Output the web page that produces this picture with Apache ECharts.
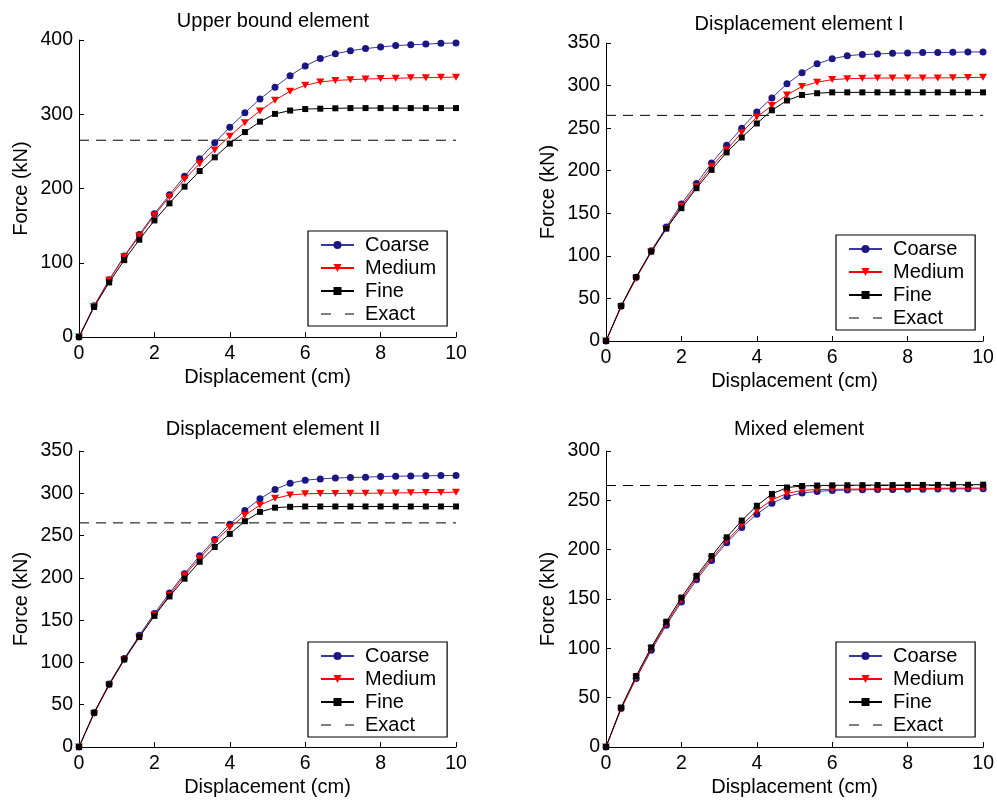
<!DOCTYPE html>
<html>
<head>
<meta charset="utf-8">
<script src="https://cdn.jsdelivr.net/npm/echarts@6/dist/echarts.min.js"></script>
<style>
html,body{margin:0;padding:0;background:#fff;}
#main{width:997px;height:802px;}
</style>
</head>
<body>
<div id="main"></div>
<script>
// Displacement values (cm)
var displacement = [0,0.4,0.8,1.2,1.6,2.0,2.4,2.8,3.2,3.6,4.0,4.4,4.8,5.2,5.6,6.0,6.4,6.8,7.2,7.6,8.0,8.4,8.8,9.2,9.6,10];

var titles = ["Upper bound element", "Displacement element I", "Displacement element II", "Mixed element"];
var exactForce = 265;

// Upper bound element
var upperCoarse = [0,42,77,109,138,166,191.5,216.5,240,261.5,282.5,302,320.5,336.5,352,365,375,381.5,385.5,388.5,390.5,392.5,393.5,394.5,395.5,396];
var upperMedium = [0,41,76.5,108,136,164,189,212.5,233.5,252,270.5,288.5,304.5,319,331,339,343.5,345.5,346.5,347.5,348,348.5,349,349.3,349.7,350];
var upperFine   = [0,40.5,73.5,103.5,131,157,180,202.5,223.5,242,260.5,276,290,300.5,305,307,307.5,308,308.3,308.3,308.3,308.3,308.3,308.3,308.3,308.3];

// Displacement element I
var disp1Coarse = [0,41,75,106,134,161,185,209,230,250,269,285.5,302,315,325.5,331.5,335,336.5,337,338,338.3,338.7,338.8,339,339.5,339.5];
var disp1Medium = [0,40,73.5,104.5,132,158.5,181.5,205,224.5,245,263,276.5,289,299,304,307,308,308.5,308.8,308.9,308.9,309,309,309.2,309.4,309.7];
var disp1Fine   = [0,41,75,105,132,156,179.5,201,221.5,239,255.5,271,282.5,289,291,292,292,292,292,292,292,292,292,292,292,292];

// Displacement element II
var disp2Coarse = [0,40.5,74.5,104.5,132,158,182,205,226,245.5,263.5,279.5,293.5,304.5,312,315.5,317,318,318.7,319,319.8,320.2,320.4,320.6,321,321];
var disp2Medium = [0,39.5,73,103,130,156,179.5,203,223,243,259.5,274,286,294,298,299.4,299.8,299.8,300,300,300.2,300.4,300.6,300.8,301,301.3];
var disp2Fine   = [0,40.5,74,103.5,130,155,178,199,219,236.5,252,267,278,283,284,284.4,284.4,284.4,284.4,284.4,284.4,284.4,284.4,284.4,284.4,284.4];

// Mixed element
var mixedCoarse = [0,39,69.5,98,123.5,147,169.5,189,207,222.5,236,247,254,257.5,259,260,260.5,260.7,260.9,261,261.2,261.3,261.5,261.6,261.7,261.8];
var mixedMedium = [0,38.5,70,99.5,125,149,171.5,191,209,225,239.5,250.5,257,260,261,261.1,261.3,261.5,261.6,261.8,262,262.1,262.2,262.3,262.4,262.5];
var mixedFine   = [0,40,72,101,127,151.5,173.5,193.5,212.5,229.5,244.5,256.5,263,264.5,265,265.2,265.3,265.4,265.5,265.5,265.6,265.6,265.7,265.8,265.8,265.9];

var yMax = [400, 350, 350, 300];
var yInterval = [100, 50, 50, 50];
var seriesSets = [
  [upperCoarse, upperMedium, upperFine],
  [disp1Coarse, disp1Medium, disp1Fine],
  [disp2Coarse, disp2Medium, disp2Fine],
  [mixedCoarse, mixedMedium, mixedFine]
];
var seriesNames = ["Coarse", "Medium", "Fine", "Exact"];

var FONT = "Liberation Sans, Arial, sans-serif";
var FS = 19.5;
var grids = [
  {left: 79, top: 40, width: 377, height: 297},
  {left: 606, top: 43, width: 377, height: 298},
  {left: 79, top: 451, width: 377, height: 296},
  {left: 606, top: 451, width: 378, height: 296}
];
var titlePos = [[268, 6], [794, 9], [268, 414], [794, 414]];
var legendPos = [[308, 231], [836, 235], [308, 642], [836, 642]];

function pairs(xs, ys){ return xs.map(function(x, i){ return [x, ys[i]]; }); }

var option = {
  backgroundColor: '#fff',
  animation: false,
  title: [], grid: [], xAxis: [], yAxis: [], legend: [], series: []
};

for (var g = 0; g < 4; g++) {
  option.title.push({
    text: titles[g], left: titlePos[g][0], top: titlePos[g][1], textAlign: 'center',
    textStyle: {fontFamily: FONT, fontSize: 20, fontWeight: 'normal', color: '#000'}
  });
  option.grid.push(grids[g]);
  option.xAxis.push({
    type: 'value', gridIndex: g, min: 0, max: 10, interval: 2,
    name: 'Displacement (cm)', nameLocation: 'middle', nameGap: 30,
    nameTextStyle: {fontFamily: FONT, fontSize: 20, color: '#000'},
    axisLine: {show: true, onZero: false, lineStyle: {color: '#000', width: 1}},
    axisTick: {show: true, inside: true, length: 5, lineStyle: {color: '#000'}},
    axisLabel: {fontFamily: FONT, fontSize: FS, color: '#000', margin: 7},
    splitLine: {show: false}
  });
  option.yAxis.push({
    type: 'value', gridIndex: g, min: 0, max: yMax[g], interval: yInterval[g],
    name: 'Force (kN)', nameLocation: 'middle', nameGap: 48,
    nameTextStyle: {fontFamily: FONT, fontSize: 20, color: '#000'},
    axisLine: {show: true, onZero: false, lineStyle: {color: '#000', width: 1}},
    axisTick: {show: true, inside: true, length: 5, lineStyle: {color: '#000'}},
    axisLabel: {fontFamily: FONT, fontSize: FS, color: '#000', margin: 6},
    splitLine: {show: false}
  });
  option.legend.push({
    left: legendPos[g][0], top: legendPos[g][1], orient: 'vertical',
    data: [
      {name: 'Coarse'},
      {name: 'Medium'},
      {name: 'Fine'},
      {name: 'Exact', itemStyle: {opacity: 0, color: 'rgba(0,0,0,0)', borderWidth: 0}, lineStyle: {type: [10, 14], width: 1}}
    ],
    itemWidth: 33, itemHeight: 10, itemGap: 3,
    padding: [4, 11, 2, 12],
    borderColor: '#000', borderWidth: 1.2, borderRadius: 0,
    backgroundColor: '#fff',
    selectedMode: false,
    textStyle: {fontFamily: FONT, fontSize: 20, lineHeight: 19, color: '#000', padding: [0, 0, 0, 6]}
  });
  var set = seriesSets[g];
  option.series.push({
    name: 'Coarse', type: 'line', xAxisIndex: g, yAxisIndex: g,
    data: pairs(displacement, set[0]),
    symbol: 'circle', symbolSize: 7,
    lineStyle: {color: '#3a36a6', width: 1},
    itemStyle: {color: '#1c1683', borderWidth: 0},
    z: 2
  });
  option.series.push({
    name: 'Medium', type: 'line', xAxisIndex: g, yAxisIndex: g,
    data: pairs(displacement, set[1]),
    symbol: 'triangle', symbolSize: [8, 7], symbolRotate: 180,
    lineStyle: {color: '#ff0000', width: 1},
    itemStyle: {color: '#ff0000', borderWidth: 0},
    z: 3
  });
  option.series.push({
    name: 'Fine', type: 'line', xAxisIndex: g, yAxisIndex: g,
    data: pairs(displacement, set[2]),
    symbol: 'rect', symbolSize: 6,
    lineStyle: {color: '#000', width: 1},
    itemStyle: {color: '#000', borderWidth: 0},
    z: 4
  });
  option.series.push({
    name: 'Exact', type: 'line', xAxisIndex: g, yAxisIndex: g,
    data: [[0, exactForce], [10, exactForce]],
    symbol: 'none',
    lineStyle: {color: '#000', width: 1, type: [10, 7]},
    itemStyle: {color: '#000'},
    z: 1
  });
}

var chart = echarts.init(document.getElementById('main'), null, {renderer: 'canvas'});
chart.setOption(option);
</script>
</body>
</html>
